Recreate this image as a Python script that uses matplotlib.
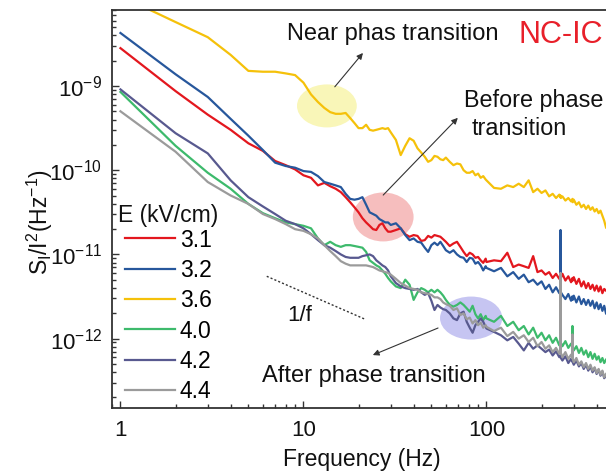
import numpy as np
import matplotlib
matplotlib.use("Agg")
import matplotlib.pyplot as plt
from matplotlib.patches import Ellipse
from matplotlib.ticker import LogLocator, NullFormatter, FixedLocator, FixedFormatter

plt.rcParams['font.family'] = ['Liberation Sans', 'DejaVu Sans']
plt.rcParams['mathtext.fontset'] = 'custom'
plt.rcParams['mathtext.rm'] = 'Liberation Sans'
plt.rcParams['mathtext.it'] = 'Liberation Sans:italic'
plt.rcParams['mathtext.default'] = 'regular'

# frequency grid (Hz) shared by all spectra
freq = (list(range(1, 31)) + list(range(32, 61, 2)) + list(range(63, 100, 3))
        + list(range(100, 251, 10)) + [253, 254, 255] + [260, 270, 280, 290]
        + [294, 295, 296] + list(range(300, 451, 10)))

# log10 of S_I/I^2, one list per field
log_31 = [-8.55, -9.06, -9.34, -9.52, -9.68, -9.77, -9.89, -9.94, -9.99, -10.06,
          -10.09, -10.18, -10.15, -10.19, -10.22, -10.26, -10.32, -10.38, -10.44, -10.50,
          -10.57, -10.62, -10.66, -10.70, -10.71, -10.65, -10.63, -10.69, -10.73, -10.73,
          -10.71, -10.69, -10.76, -10.79, -10.77, -10.78, -10.84, -10.83, -10.78, -10.80,
          -10.77, -10.78, -10.79, -10.82, -10.85,
          -10.90, -10.87, -10.85, -10.91, -10.97, -11.02, -10.98, -11.00, -11.04, -11.03,
          -11.07, -11.10, -11.05,
          -11.09, -11.07, -11.08, -10.98, -11.15, -11.12, -11.14, -11.16, -11.02, -11.21,
          -11.19, -11.24, -11.21, -11.28, -11.23, -11.29,
          -11.27, -11.25, -11.28,
          -11.23, -11.31, -11.26, -11.33,
          -11.30, -11.28, -11.31,
          -11.27, -11.35, -11.29, -11.38, -11.32, -11.40, -11.34, -11.41, -11.36, -11.43,
          -11.37, -11.44, -11.38, -11.46, -11.41, -11.43]
log_32 = [-8.37, -8.86, -9.13, -9.39, -9.59, -9.76, -9.91, -9.95, -9.97, -10.01,
          -10.02, -10.07, -10.14, -10.16, -10.18, -10.20, -10.28, -10.34, -10.35, -10.34,
          -10.32, -10.41, -10.50, -10.52, -10.54, -10.58, -10.60, -10.62, -10.62, -10.65,
          -10.63, -10.69, -10.77, -10.83, -10.81, -10.85, -10.86, -10.92, -10.97, -10.89,
          -10.86, -10.89, -10.85, -10.90, -10.95,
          -10.98, -10.95, -11.00, -11.03, -11.04, -11.09, -11.04, -11.05, -11.11, -11.09,
          -11.13, -11.19, -11.14,
          -11.16, -11.20, -11.16, -11.26, -11.21, -11.29, -11.24, -11.33, -11.30, -11.36,
          -11.32, -11.41, -11.36, -11.45, -11.39, -11.46,
          -11.43, -10.71, -11.45,
          -11.48, -11.53, -11.47, -11.55,
          -11.50, -11.53, -11.54,
          -11.49, -11.57, -11.50, -11.59, -11.53, -11.60, -11.54, -11.61, -11.55, -11.64,
          -11.57, -11.65, -11.59, -11.67, -11.61, -11.70]
log_36 = [-7.93, -8.24, -8.42, -8.63, -8.82, -8.83, -8.83, -8.85, -8.87, -8.96,
          -9.10, -9.19, -9.26, -9.31, -9.33, -9.33, -9.32, -9.38, -9.44, -9.50,
          -9.50, -9.46, -9.52, -9.53, -9.52, -9.51, -9.50, -9.51, -9.50, -9.55,
          -9.64, -9.82, -9.71, -9.62, -9.65, -9.74, -9.79, -9.84, -9.90, -9.88,
          -9.83, -9.84, -9.87, -9.88, -9.85,
          -9.90, -9.94, -9.92, -9.93, -10.00, -10.03, -10.03, -10.01, -10.06, -10.04,
          -10.09, -10.07, -10.11,
          -10.12, -10.21, -10.22, -10.18, -10.20, -10.16, -10.20, -10.12, -10.26, -10.22,
          -10.27, -10.24, -10.31, -10.28, -10.33, -10.29,
          -10.32, -10.30, -10.33,
          -10.31, -10.36, -10.33, -10.37,
          -10.36, -10.34, -10.38,
          -10.35, -10.41, -10.38, -10.44, -10.41, -10.46, -10.42, -10.47, -10.44, -10.49,
          -10.46, -10.51, -10.48, -10.54, -10.60, -10.68]
log_40 = [-9.07, -9.71, -10.03, -10.22, -10.40, -10.51, -10.57, -10.62, -10.64, -10.66,
          -10.69, -10.81, -10.89, -10.85, -10.89, -10.91, -10.89, -10.89, -10.90, -10.91,
          -10.92, -10.97, -11.07, -11.10, -11.13, -11.15, -11.19, -11.23, -11.28, -11.32,
          -11.38, -11.40, -11.30, -11.36, -11.54, -11.45, -11.40, -11.42, -11.45, -11.42,
          -11.45, -11.42, -11.45, -11.49, -11.54,
          -11.60, -11.62, -11.60, -11.57, -11.60, -11.64, -11.68, -11.61, -11.71, -11.76,
          -11.71, -11.78, -11.73,
          -11.76, -11.80, -11.73, -11.85, -11.80, -11.90, -11.85, -11.95, -11.87, -11.99,
          -11.93, -12.02, -11.96, -12.05, -11.99, -12.08,
          -12.04, -12.02, -12.05,
          -12.09, -12.03, -12.11, -12.06,
          -12.09, -11.85, -12.10,
          -12.14, -12.09, -12.17, -12.11, -12.19, -12.14, -12.22, -12.16, -12.24, -12.18,
          -12.25, -12.21, -12.28, -12.23, -12.29, -12.25]
log_42 = [-9.04, -9.56, -9.80, -10.12, -10.32, -10.43, -10.52, -10.60, -10.64, -10.69,
          -10.76, -10.83, -10.89, -10.92, -10.96, -11.00, -11.03, -11.04, -11.04, -11.04,
          -11.02, -11.01, -11.00, -11.02, -11.07, -11.10, -11.13, -11.15, -11.19, -11.26,
          -11.34, -11.38, -11.40, -11.41, -11.42, -11.41, -11.45, -11.48, -11.46, -11.55,
          -11.66, -11.60, -11.63, -11.65, -11.66,
          -11.70, -11.76, -11.78, -11.70, -11.68, -11.80, -11.87, -11.93, -11.84, -11.80,
          -11.76, -11.80, -11.86,
          -11.88, -11.92, -11.96, -12.02, -11.98, -12.06, -12.14, -12.05, -12.12, -12.08,
          -12.12, -12.16, -12.13, -12.20, -12.15, -12.22,
          -12.20, -12.21, -12.23,
          -12.26, -12.21, -12.29, -12.24,
          -12.27, -12.25, -12.28,
          -12.31, -12.26, -12.33, -12.29, -12.36, -12.31, -12.38, -12.33, -12.40, -12.35,
          -12.42, -12.37, -12.44, -12.39, -12.47, -12.44]
log_44 = [-9.30, -9.78, -10.14, -10.30, -10.40, -10.52, -10.58, -10.64, -10.70, -10.72,
          -10.76, -10.81, -10.89, -10.96, -11.02, -11.08, -11.11, -11.13, -11.13, -11.13,
          -11.13, -11.13, -11.14, -11.15, -11.17, -11.19, -11.20, -11.21, -11.22, -11.24,
          -11.29, -11.34, -11.37, -11.40, -11.41, -11.42, -11.45, -11.46, -11.47, -11.48,
          -11.51, -11.51, -11.53, -11.57, -11.59,
          -11.61, -11.66, -11.64, -11.72, -11.70, -11.77, -11.75, -11.82, -11.78, -11.84,
          -11.81, -11.87, -11.84,
          -11.86, -11.91, -11.87, -11.97, -11.92, -12.00, -11.96, -12.04, -11.99, -12.09,
          -12.04, -12.12, -12.08, -12.16, -12.11, -12.18,
          -12.16, -11.22, -12.17,
          -12.22, -12.16, -12.24, -12.19,
          -12.23, -11.95, -12.24,
          -12.28, -12.23, -12.31, -12.27, -12.34, -12.29, -12.36, -12.31, -12.38, -12.34,
          -12.41, -12.36, -12.43, -12.38, -12.46, -12.42]

fields = ['3.1', '3.2', '3.6', '4.0', '4.2', '4.4']
series = [log_31, log_32, log_36, log_40, log_42, log_44]
colors = ['#e3171e', '#27579c', '#f5c10a', '#3dba6c', '#58598f', '#9b9b9b']

# 1/f guide line end points
guide_f = [6.3, 21.7]
guide_s = [5.5e-12, 1.7e-12]

fig = plt.figure(figsize=(6.06, 4.75), dpi=100)
ax = fig.add_axes([112 / 606, 67 / 475, 494 / 606, 398 / 475])

# highlight ellipses (axes fraction)
ax.add_patch(Ellipse((0.435, 0.759), 0.121, 0.108, transform=ax.transAxes,
                     facecolor='#f7f3a0', edgecolor='none', alpha=0.75, zorder=1))
ax.add_patch(Ellipse((0.549, 0.480), 0.123, 0.123, transform=ax.transAxes,
                     facecolor='#f3a9a9', edgecolor='none', alpha=0.75, zorder=1))
ax.add_patch(Ellipse((0.727, 0.226), 0.126, 0.108, transform=ax.transAxes,
                     facecolor='#b4b2ee', edgecolor='none', alpha=0.75, zorder=1))

for lbl, vals, c in zip(fields, series, colors):
    ax.plot(freq, 10 ** np.array(vals), color=c, lw=1.6, label=lbl, zorder=2)

ax.plot(guide_f, guide_s, color='#333333', lw=1.0, ls=(0, (1.5, 1.5)), zorder=2)

ax.set_xscale('log')
ax.set_yscale('log')
ax.set_xlim(0.899, 450)
ax.set_ylim(1.5e-13, 8.0e-9)

ax.xaxis.set_major_locator(FixedLocator([1, 10, 100]))
ax.xaxis.set_major_formatter(FixedFormatter(['1', '10', '100']))
ax.xaxis.set_minor_locator(LogLocator(base=10, subs=np.arange(2, 10)))
ax.xaxis.set_minor_formatter(NullFormatter())
ax.yaxis.set_major_locator(FixedLocator([1e-12, 1e-11, 1e-10, 1e-9]))
ax.yaxis.set_major_formatter(FixedFormatter(['$10^{-12}$', '$10^{-11}$', '$10^{-10}$', '$10^{-9}$']))
ax.yaxis.set_minor_locator(LogLocator(base=10, subs=np.arange(2, 10), numticks=20))
ax.yaxis.set_minor_formatter(NullFormatter())

ax.tick_params(which='both', direction='in', top=False, right=False, colors='#333333',
               labelcolor='#111111', labelsize=16, width=1.0)
ax.tick_params(which='major', length=5)
ax.tick_params(which='minor', length=3)
ax.tick_params(axis='x', pad=9)
ax.tick_params(axis='y', pad=7)
for side in ['left', 'bottom', 'top']:
    ax.spines[side].set_linewidth(1.3)
    ax.spines[side].set_color('#333333')
ax.spines['right'].set_visible(False)

ax.set_xlabel('Frequency (Hz)', fontsize=16.5, color='#111111')
ax.set_ylabel('S$_I$/I$^2$(Hz$^{-1}$)', fontsize=16.5, color='#111111')
ax.xaxis.set_label_coords(0.506, -0.10)
ax.yaxis.set_label_coords(-0.116, 0.467)

# legend
ax.text(0.012, 0.467, 'E (kV/cm)', transform=ax.transAxes, fontsize=16.5,
        va='baseline', ha='left', color='#111111')
ax.legend(loc='upper left', bbox_to_anchor=(0.026, 0.451), frameon=False, fontsize=16.5,
          borderpad=0, borderaxespad=0, handlelength=2.2, handletextpad=0.2,
          labelspacing=0.32)

# annotations
ax.text(0.354, 0.925, 'Near phas transition', transform=ax.transAxes, fontsize=17,
        va='baseline', color='#111111')
ax.text(0.994, 0.917, 'NC-IC', transform=ax.transAxes, fontsize=22, ha='right',
        va='baseline', color='#e8202a')
ax.text(0.712, 0.756, 'Before phase', transform=ax.transAxes, fontsize=16.8,
        va='baseline', color='#111111')
ax.text(0.727, 0.686, 'transition', transform=ax.transAxes, fontsize=16.8,
        va='baseline', color='#111111')
ax.text(0.304, 0.065, 'After phase transition', transform=ax.transAxes, fontsize=17,
        va='baseline', color='#111111')
ax.text(0.354, 0.219, '1/f', transform=ax.transAxes, fontsize=16,
        va='baseline', color='#111111')

arrow = dict(arrowstyle='-|>', color='#333333', lw=0.8, mutation_scale=9, shrinkA=0, shrinkB=0)
ax.annotate('', xy=(0.508, 0.892), xytext=(0.451, 0.807), xycoords='axes fraction',
            textcoords='axes fraction', arrowprops=arrow)
ax.annotate('', xy=(0.700, 0.729), xytext=(0.549, 0.535), xycoords='axes fraction',
            textcoords='axes fraction', arrowprops=arrow)
ax.annotate('', xy=(0.528, 0.133), xytext=(0.660, 0.201), xycoords='axes fraction',
            textcoords='axes fraction', arrowprops=arrow)

fig.savefig('out.png', dpi=100)
